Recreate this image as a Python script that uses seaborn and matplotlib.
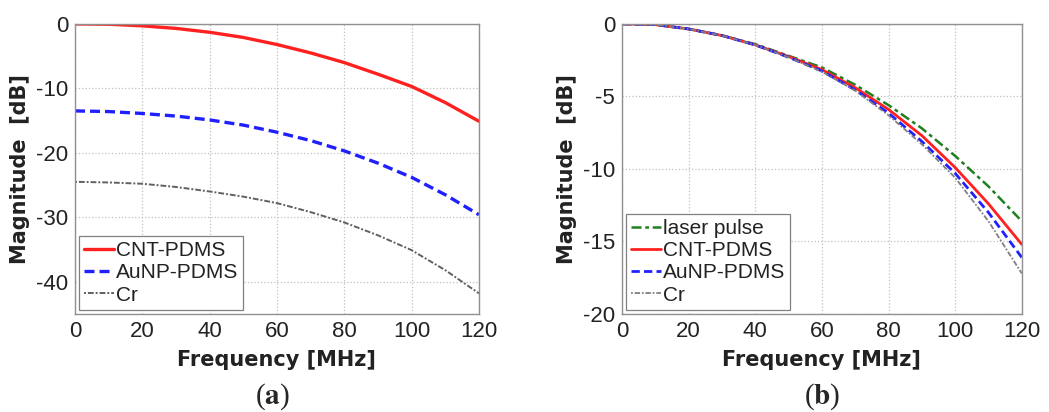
import numpy as np
import pandas as pd
import matplotlib
matplotlib.use("Agg")
import matplotlib.pyplot as plt
import seaborn as sns

freq = [0, 10, 20, 30, 40, 50, 60, 70, 80, 90, 100, 110, 120]

# panel (a)
a_cnt = [0, -0.05, -0.3, -0.7, -1.3, -2.1, -3.2, -4.5, -6.0, -7.8, -9.7, -12.2, -15.1]
a_aunp = [-13.5, -13.6, -13.9, -14.3, -14.9, -15.7, -16.8, -18.1, -19.7, -21.6, -23.8, -26.5, -29.6]
a_cr = [-24.5, -24.6, -24.8, -25.3, -26.0, -26.8, -27.8, -29.2, -30.8, -32.8, -35.1, -38.2, -41.8]

# panel (b)
b_laser = [0, -0.05, -0.35, -0.8, -1.4, -2.2, -3.0, -4.2, -5.6, -7.2, -9.1, -11.2, -13.6]
b_cnt = [0, -0.05, -0.35, -0.8, -1.45, -2.25, -3.15, -4.4, -5.9, -7.7, -9.9, -12.4, -15.2]
b_aunp = [0, -0.05, -0.35, -0.8, -1.45, -2.3, -3.25, -4.55, -6.15, -8.1, -10.3, -13.0, -16.1]
b_cr = [0, -0.05, -0.35, -0.8, -1.45, -2.3, -3.3, -4.6, -6.3, -8.3, -10.6, -13.6, -17.2]

sns.set_style("whitegrid")
plt.rcParams["font.family"] = ["Liberation Sans", "DejaVu Sans"]
plt.rcParams["mathtext.fontset"] = "stix"
plt.rcParams["axes.unicode_minus"] = False

fig = plt.figure(figsize=(10.49, 4.12), dpi=100)
ax1 = fig.add_axes([0.0715, 0.238, 0.385, 0.704])
ax2 = fig.add_axes([0.593, 0.238, 0.381, 0.704])


def style_axes(ax, ylim, yticks):
    ax.set_xlim(0, 120)
    ax.set_ylim(*ylim)
    ax.set_xticks(range(0, 121, 20))
    ax.set_yticks(yticks)
    ax.grid(True, linestyle=":", color="#c0c0c0", linewidth=0.9)
    for sp in ax.spines.values():
        sp.set_color("#909090")
        sp.set_linewidth(1.0)
    ax.tick_params(axis="both", direction="in", length=4, labelsize=16,
                   color="#909090", pad=5, labelcolor="#222222")
    ax.set_xlabel("Frequency [MHz]", fontsize=15, fontweight="bold", labelpad=6,
                  family="DejaVu Sans", color="#222222")
    ax.set_ylabel("Magnitude  [dB]", fontsize=15, fontweight="bold", labelpad=4,
                  family="DejaVu Sans", color="#222222")


sns.lineplot(x=freq, y=a_cnt, ax=ax1, color="#ff2020", linewidth=2.4, label="CNT-PDMS")
sns.lineplot(x=freq, y=a_aunp, ax=ax1, color="#2020ff", linewidth=2.4,
             linestyle=(0, (3, 1.5)), label="AuNP-PDMS")
sns.lineplot(x=freq, y=a_cr, ax=ax1, color="#606060", linewidth=1.4,
             linestyle=(0, (1, 1, 3, 1)), label="Cr")
style_axes(ax1, (-45, 0), [0, -10, -20, -30, -40])

sns.lineplot(x=freq, y=b_laser, ax=ax2, color="#208020", linewidth=1.8,
             linestyle=(0, (4, 1.5, 1.5, 1.5)), label="laser pulse")
sns.lineplot(x=freq, y=b_cnt, ax=ax2, color="#ff2020", linewidth=2.0, label="CNT-PDMS")
sns.lineplot(x=freq, y=b_aunp, ax=ax2, color="#2020ff", linewidth=2.0,
             linestyle=(0, (3, 1.5)), label="AuNP-PDMS")
sns.lineplot(x=freq, y=b_cr, ax=ax2, color="#808080", linewidth=1.3,
             linestyle=(0, (1, 1, 3, 1)), label="Cr")
style_axes(ax2, (-20, 0), [0, -5, -10, -15, -20])

for ax in (ax1, ax2):
    leg = ax.legend(loc="lower left", fontsize=15, handlelength=1.4,
                    handletextpad=0.1, borderaxespad=0.2, borderpad=0.25,
                    labelspacing=0.15, fancybox=False, framealpha=1)
    leg.get_frame().set_edgecolor("#808080")
    leg.get_frame().set_linewidth(0.9)
    for t in leg.get_texts():
        t.set_color("#222222")

fig.text(0.26, 0.0, r"($\mathbf{a}$)", fontsize=21, family="Liberation Serif",
         ha="center", va="bottom")
fig.text(0.784, 0.0, r"($\mathbf{b}$)", fontsize=21, family="Liberation Serif",
         ha="center", va="bottom")

fig.savefig("out.png", dpi=100, facecolor="white")
